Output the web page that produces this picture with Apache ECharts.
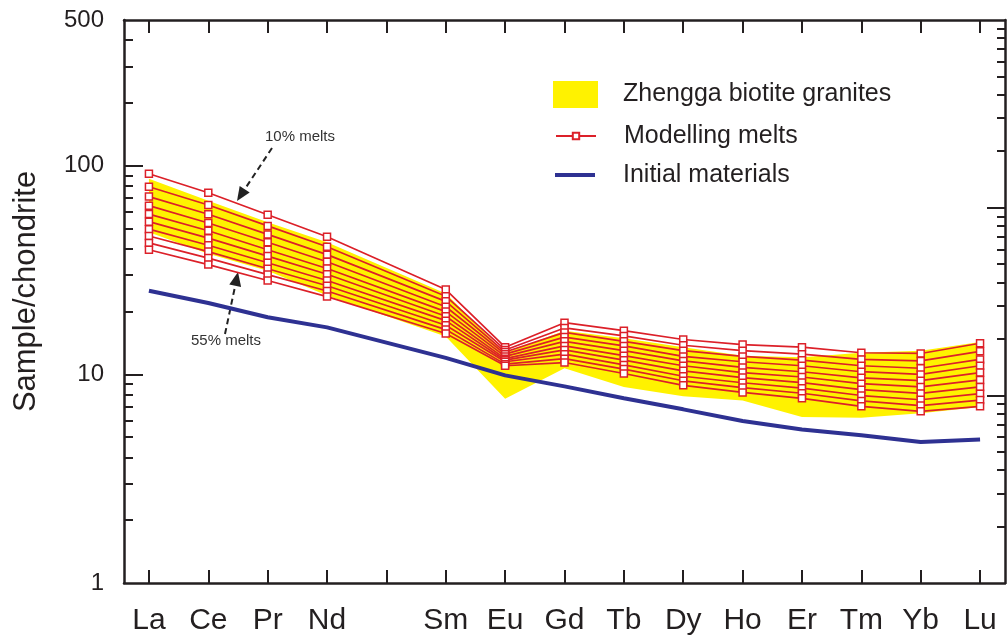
<!DOCTYPE html>
<html>
<head>
<meta charset="utf-8">
<script src="https://cdn.jsdelivr.net/npm/echarts@6/dist/echarts.min.js"></script>
<style>
  html, body { margin: 0; padding: 0; background: #ffffff; }
  #chart { width: 1008px; height: 644px; }
</style>
</head>
<body>
<div id="chart"></div>
<script>
// ---------- data ----------
const categories = ['La', 'Ce', 'Pr', 'Nd', 'Pm', 'Sm', 'Eu', 'Gd', 'Tb', 'Dy', 'Ho', 'Er', 'Tm', 'Yb', 'Lu'];
const tickLabels = ['La', 'Ce', 'Pr', 'Nd', '', 'Sm', 'Eu', 'Gd', 'Tb', 'Dy', 'Ho', 'Er', 'Tm', 'Yb', 'Lu'];
const elements = ['La', 'Ce', 'Pr', 'Nd', 'Sm', 'Eu', 'Gd', 'Tb', 'Dy', 'Ho', 'Er', 'Tm', 'Yb', 'Lu'];

const yLabelValues = [1, 10, 100, 500];
const yMinorTicks = [2, 3, 4, 5, 6, 7, 8, 9, 20, 30, 40, 50, 60, 70, 80, 90, 200, 300, 400];
const yMajorTicks = [10, 100];
const rightMinorTicks = [2, 3, 4, 5, 6, 7, 8, 9, 20, 30, 40, 50, 60, 70, 80, 90, 200, 300, 400, 500, 600, 700, 800, 900];
const rightMajorTicks = [10, 100];

// Zhengga biotite granites field (upper / lower envelope)
const fieldUpper = [86.7, 68.0, 53.6, 43.0, 24.4, 12.7, 16.2, 14.9, 13.5, 12.3, 12.1, 12.7, 13.0, 14.3];
const fieldLower = [48.0, 37.9, 31.4, 23.9, 15.2, 7.65, 10.7, 8.70, 7.85, 7.50, 6.25, 6.20, 6.51, 6.97];

// Modelling melts (10% ... 55% melts)
const melt10 = [91.6, 74.3, 58.3, 45.7, 25.5, 13.5, 17.7, 16.2, 14.7, 13.9, 13.5, 12.7, 12.6, 14.1];
const melt15 = [79.4, 64.9, 51.5, 40.9, 23.7, 13.1, 16.7, 15.3, 13.8, 13.0, 12.5, 11.8, 11.6, 12.9];
const melt20 = [71.2, 58.6, 46.9, 37.5, 22.4, 12.8, 15.9, 14.4, 13.0, 12.2, 11.7, 11.0, 10.7, 11.8];
const melt25 = [64.4, 53.2, 43.0, 34.7, 21.1, 12.5, 15.1, 13.7, 12.2, 11.5, 11.0, 10.3, 10.0, 11.0];
const melt30 = [58.7, 48.8, 39.6, 32.2, 20.0, 12.2, 14.4, 13.0, 11.6, 10.8, 10.3, 9.63, 9.33, 10.2];
const melt35 = [54.0, 45.0, 36.9, 30.2, 19.0, 11.9, 13.7, 12.3, 11.0, 10.2, 9.72, 9.03, 8.71, 9.41];
const melt40 = [49.7, 41.6, 34.3, 28.2, 18.1, 11.7, 13.1, 11.7, 10.4, 9.66, 9.14, 8.45, 8.11, 8.71];
const melt45 = [46.1, 38.8, 32.1, 26.6, 17.2, 11.5, 12.5, 11.1, 9.80, 9.12, 8.59, 7.92, 7.56, 8.08];
const melt50 = [42.7, 36.1, 30.1, 25.1, 16.4, 11.2, 11.9, 10.6, 9.32, 8.65, 8.12, 7.46, 7.09, 7.53];
const melt55 = [39.6, 33.6, 28.2, 23.6, 15.7, 11.0, 11.4, 10.1, 8.86, 8.20, 7.68, 7.03, 6.65, 7.03];

// Initial materials
const initialMaterials = [25.2, 22.0, 18.8, 16.8, 12.0, 9.89, 8.76, 7.68, 6.80, 5.98, 5.44, 5.11, 4.74, 4.87];

const meltSeriesData = [melt10, melt15, melt20, melt25, melt30, melt35, melt40, melt45, melt50, melt55];

// ---------- styles ----------
const FONT = "'Liberation Sans', Arial, Helvetica, sans-serif";
const INK = '#231f20';
const YELLOW = '#fff200';
const RED = '#dc2029';
const BLUE = '#2e3192';

const xPos = elements.map(el => categories.indexOf(el));
const tickIdx = categories.map((c, i) => i);
const toPairs = vals => vals.map((v, i) => [xPos[i], v]);

const chart = echarts.init(document.getElementById('chart'), null, { renderer: 'canvas' });

const meltSeries = meltSeriesData.map(vals => ({
  type: 'line',
  name: 'Modelling melts',
  xAxisIndex: 0, yAxisIndex: 0,
  data: toPairs(vals),
  symbol: 'rect',
  symbolSize: 7,
  lineStyle: { color: RED, width: 1.7 },
  itemStyle: { color: '#ffffff', borderColor: RED, borderWidth: 1.5 },
  z: 5,
  silent: true,
  emphasis: { disabled: true }
}));

const xCommon = {
  type: 'value',
  min: -0.42,
  max: 14.42,
  splitLine: { show: false },
  axisLine: { show: true, onZero: false, lineStyle: { color: INK, width: 2.5 } }
};

const yCommonLine = { show: true, onZero: false, lineStyle: { color: INK, width: 2.5 } };
const yHiddenLine = { show: false, onZero: false };

const option = {
  backgroundColor: '#ffffff',
  animation: false,
  textStyle: { fontFamily: FONT },
  grid: { left: 124, right: 3, top: 20, bottom: 61, containLabel: false },
  legend: [
    {
      orient: 'vertical', left: 553, top: 81, padding: 0,
      itemWidth: 45, itemHeight: 27,
      selectedMode: false,
      data: [{ name: 'Zhengga biotite granites', icon: 'rect' }],
      textStyle: { fontSize: 25, color: INK, fontFamily: FONT, padding: [0, 0, 0, 20] }
    },
    {
      orient: 'vertical', left: 555, top: 123.5, padding: 0,
      itemWidth: 40, itemHeight: 8,
      selectedMode: false,
      data: ['Modelling melts'],
      textStyle: { fontSize: 25, color: INK, fontFamily: FONT, padding: [0, 0, 0, 23] }
    },
    {
      orient: 'vertical', left: 555, top: 162.5, padding: 0,
      itemWidth: 40, itemHeight: 4,
      selectedMode: false,
      data: [{ name: 'Initial materials', icon: 'rect' }],
      textStyle: { fontSize: 25, color: INK, fontFamily: FONT, padding: [0, 0, 0, 23] }
    }
  ],
  xAxis: [
    Object.assign({}, xCommon, {
      position: 'bottom',
      axisTick: { show: true, inside: true, length: 13, customValues: tickIdx, lineStyle: { color: INK, width: 2 } },
      axisLabel: {
        show: true, customValues: tickIdx, margin: 23,
        fontSize: 30, color: INK, fontFamily: FONT,
        formatter: v => tickLabels[Math.round(v)] || ''
      }
    }),
    Object.assign({}, xCommon, {
      position: 'top',
      axisTick: { show: true, inside: true, length: 13, customValues: tickIdx, lineStyle: { color: INK, width: 2 } },
      axisLabel: { show: false }
    })
  ],
  yAxis: [
    {
      type: 'log', logBase: 10, min: 1, max: 500, position: 'left',
      splitLine: { show: false },
      axisLine: yCommonLine,
      axisTick: { show: true, inside: true, length: 9, customValues: yMinorTicks, lineStyle: { color: INK, width: 2 } },
      axisLabel: { show: true, customValues: yLabelValues, margin: 20, fontSize: 24, color: INK, fontFamily: FONT },
      name: 'Sample/chondrite',
      nameLocation: 'middle',
      nameGap: 82,
      nameTextStyle: { fontSize: 31, color: INK, fontFamily: FONT, padding: [0, 0, 0, 20] }
    },
    {
      type: 'log', logBase: 10, min: 1, max: 500, position: 'left',
      splitLine: { show: false },
      axisLine: yHiddenLine,
      axisTick: { show: true, inside: true, length: 19, customValues: yMajorTicks, lineStyle: { color: INK, width: 2 } },
      axisLabel: { show: false }
    },
    {
      type: 'log', logBase: 10, min: 1, max: 1000, position: 'right',
      splitLine: { show: false },
      axisLine: yCommonLine,
      axisTick: { show: true, inside: true, length: 8, customValues: rightMinorTicks, lineStyle: { color: INK, width: 2 } },
      axisLabel: { show: false }
    },
    {
      type: 'log', logBase: 10, min: 1, max: 1000, position: 'right',
      splitLine: { show: false },
      axisLine: yHiddenLine,
      axisTick: { show: true, inside: true, length: 18, customValues: rightMajorTicks, lineStyle: { color: INK, width: 2 } },
      axisLabel: { show: false }
    }
  ],
  series: [
    {
      type: 'custom',
      name: 'Zhengga biotite granites',
      coordinateSystem: 'cartesian2d',
      xAxisIndex: 0, yAxisIndex: 0,
      itemStyle: { color: YELLOW },
      silent: true,
      z: 1,
      data: xPos.map((x, i) => [x, fieldUpper[i], fieldLower[i]]),
      encode: { x: 0, y: [1, 2] },
      renderItem: function (params, api) {
        if (params.dataIndex !== 0) return null;
        const pts = [];
        for (let i = 0; i < xPos.length; i++) pts.push(api.coord([xPos[i], fieldUpper[i]]));
        for (let i = xPos.length - 1; i >= 0; i--) pts.push(api.coord([xPos[i], fieldLower[i]]));
        return { type: 'polygon', shape: { points: pts }, style: { fill: YELLOW, stroke: null } };
      }
    },
    {
      type: 'line',
      name: 'Initial materials',
      xAxisIndex: 0, yAxisIndex: 0,
      data: toPairs(initialMaterials),
      symbol: 'none',
      lineStyle: { color: BLUE, width: 4 },
      itemStyle: { color: BLUE },
      z: 3,
      silent: true,
      emphasis: { disabled: true }
    }
  ].concat(meltSeries),
  graphic: [
    { type: 'text', silent: true, style: { x: 265, y: 137, text: '10% melts', font: '15px ' + FONT, fill: '#333333', verticalAlign: 'middle' } },
    { type: 'line', silent: true, shape: { x1: 272, y1: 148, x2: 244.7, y2: 189.3 }, style: { stroke: '#222222', lineWidth: 2, lineDash: [6, 4] } },
    { type: 'polygon', silent: true, shape: { points: [[237, 201], [249.7, 192.6], [239.7, 186]] }, style: { fill: '#222222' } },
    { type: 'text', silent: true, style: { x: 191, y: 341, text: '55% melts', font: '15px ' + FONT, fill: '#333333', verticalAlign: 'middle' } },
    { type: 'line', silent: true, shape: { x1: 225, y1: 334, x2: 235.2, y2: 285.7 }, style: { stroke: '#222222', lineWidth: 2, lineDash: [6, 4] } },
    { type: 'polygon', silent: true, shape: { points: [[238, 272], [241.1, 286.9], [229.3, 284.5]] }, style: { fill: '#222222' } }
  ]
};

chart.setOption(option);
</script>
</body>
</html>
